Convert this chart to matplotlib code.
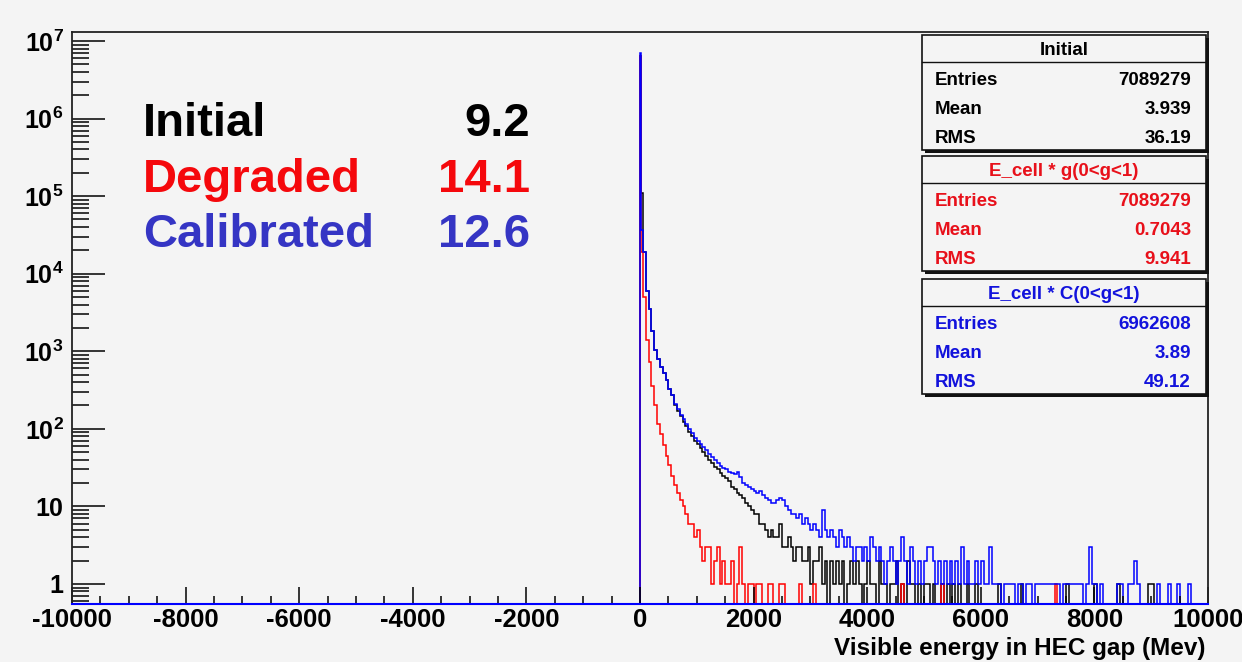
import numpy as np
import matplotlib
matplotlib.use("Agg")
import matplotlib.pyplot as plt
from matplotlib.patches import Rectangle
from matplotlib.lines import Line2D
from matplotlib.ticker import MultipleLocator, FixedLocator, FuncFormatter, NullFormatter

plt.rcParams["font.family"] = ["Liberation Sans", "DejaVu Sans"]
plt.rcParams["font.weight"] = "bold"
plt.rcParams["axes.unicode_minus"] = False
plt.rcParams["mathtext.fontset"] = "custom"
plt.rcParams["mathtext.rm"] = "Liberation Sans:bold"
plt.rcParams["mathtext.bf"] = "Liberation Sans:bold"
plt.rcParams["mathtext.it"] = "Liberation Sans:bold"

# bin edges (MeV): two narrow bins at zero, then 50 MeV bins up to 9700
edges = np.concatenate([[0, 20, 50], np.arange(100, 9701, 50)])

# counts for the first three bins [0,20) [20,50) [50,100)
black_peak = [6.4e6, 1.1e5, 1.9e4]
red_peak = [6.5e6, 1.9e4, 5.0e3]
blue_peak = [6.9e6, 3.7e4, 1.9e4]

# counts from 100 MeV on, 10 bins (500 MeV) per row
black_tail = [
    6000, 3500, 1800, 1050, 800, 620, 520, 430, 330, 270,
    205, 172, 146, 124, 108, 92, 80, 70, 63, 57,
    50, 45, 40, 36, 32, 30, 27, 25, 23, 21,
    18, 17, 15, 14, 13, 11, 10, 9, 8, 8,
    6, 6, 5, 4, 5, 4, 4, 6, 3, 3,
    4, 3, 2, 3, 3, 2, 2, 3, 1, 2,
    2, 3, 1, 2, 0, 2, 1, 2, 1, 2,
    0, 1, 2, 1, 2, 1, 0, 1, 2, 1,
    1, 0, 2, 1, 1, 0, 1, 1, 2, 0,
    1, 0, 2, 1, 1, 0, 1, 0, 1, 1,
    0, 1, 0, 0, 1, 0, 1, 0, 1, 0,
    1, 0, 0, 1, 0, 0, 1, 0, 0, 0,
    0, 0, 0, 0, 1, 0, 0, 0, 0, 0,
    0, 0, 1, 0, 0, 0, 0, 0, 0, 0,
    0, 0, 0, 0, 0, 0, 0, 0, 1, 0,
    0, 0, 0, 0, 0, 0, 0, 0, 1, 0,
    0, 0, 0, 0, 0, 0, 1, 0, 0, 0,
    0, 0, 0, 0, 0, 0, 0, 1, 1, 0,
    0, 0, 0, 0, 0, 0, 0, 0, 0, 0,
    0, 0,
]
red_tail = [
    1400, 720, 360, 200, 115, 85, 62, 45, 34, 25,
    19, 15, 12, 10, 8, 6, 6, 4, 5, 3,
    2, 3, 3, 1, 2, 3, 1, 2, 1, 1,
    2, 0, 1, 3, 1, 0, 1, 1, 0, 1,
    1, 0, 0, 1, 1, 0, 0, 1, 1, 0,
    0, 0, 0, 0, 1, 0, 0, 0, 0, 1,
    0, 0, 0, 0, 0, 0, 0, 0, 0, 0,
    0, 0, 0, 0, 0, 0, 0, 0, 0, 0,
    0, 0, 0, 0, 0, 0, 0, 0, 0, 0,
    1, 0, 0, 0, 0, 0, 0, 0, 0, 0,
    0, 0, 0, 0, 1, 0, 0, 0, 0, 0,
    0, 0, 0, 0, 0, 0, 0, 0, 0, 0,
    0, 0, 0, 0, 0, 0, 0, 0, 0, 0,
    0, 0, 0, 0, 0, 0, 0, 0, 0, 0,
    0, 0, 0, 0, 1, 0, 0, 0, 0, 0,
    0, 0, 0, 0, 0, 0, 0, 0, 0, 0,
    0, 0, 0, 0, 0, 0, 0, 0, 0, 0,
    0, 0, 0, 0, 0, 0, 0, 0, 0, 0,
    0, 0, 0, 0, 0, 0, 0, 0, 0, 0,
    0, 0,
]
blue_tail = [
    6000, 3500, 1800, 1050, 800, 620, 520, 430, 330, 270,
    212, 182, 150, 134, 114, 100, 88, 76, 70, 64,
    58, 54, 48, 43, 40, 36, 33, 31, 30, 28,
    27, 26, 28, 24, 20, 19, 18, 17, 16, 15,
    16, 14, 13, 12, 11, 11, 12, 13, 12, 10,
    9, 8, 8, 7, 8, 6, 7, 6, 5, 6,
    5, 4, 9, 5, 4, 5, 4, 3, 5, 4,
    3, 4, 3, 2, 3, 3, 2, 3, 2, 4,
    3, 2, 3, 2, 1, 2, 3, 2, 1, 2,
    4, 2, 1, 3, 2, 1, 2, 1, 2, 3,
    3, 2, 1, 2, 1, 2, 1, 2, 1, 2,
    1, 3, 1, 2, 1, 1, 2, 1, 2, 1,
    1, 3, 1, 1, 1, 0, 1, 1, 1, 1,
    0, 1, 1, 0, 1, 1, 0, 1, 1, 1,
    1, 1, 1, 1, 1, 1, 0, 1, 1, 1,
    1, 1, 1, 1, 0, 1, 3, 1, 1, 0,
    1, 0, 0, 0, 0, 0, 1, 1, 0, 0,
    1, 1, 2, 1, 0, 0, 0, 0, 0, 0,
    1, 0, 0, 0, 1, 0, 0, 1, 0, 0,
    0, 1,
]

stats = [
    ("Initial", "#000000", ["7089279", "3.939", "36.19"]),
    ("E_cell * g(0<g<1)", "#e8101a", ["7089279", "0.7043", "9.941"]),
    ("E_cell * C(0<g<1)", "#1212dc", ["6962608", "3.89", "49.12"]),
]
stat_names = ["Entries", "Mean", "RMS"]

summary_names = ["Initial", "Degraded", "Calibrated"]
summary_values = ["9.2", "14.1", "12.6"]
summary_colors = ["#000000", "#f5080c", "#3535c4"]

y_major = [1, 10, 1e2, 1e3, 1e4, 1e5, 1e6, 1e7]

YMIN, YMAX = 0.552, 1.306e7
BG = "#f4f4f4"
W, H = 1242, 662


def fx(px):
    return px / W


def fy(py):
    return 1 - py / H


fig = plt.figure(figsize=(W / 100, H / 100), dpi=100, facecolor=BG)
ax = fig.add_axes([fx(72), fy(604), fx(1208) - fx(72), fy(32) - fy(604)])
ax.set_facecolor(BG)
ax.set_yscale("log")

for peak, tail, col in [(black_peak, black_tail, "#000000"),
                        (red_peak, red_tail, "#ff0000"),
                        (blue_peak, blue_tail, "#0000ff")]:
    vals = np.clip(np.array(peak + tail, dtype=float), YMIN, None)
    ax.stairs(vals, edges, baseline=YMIN, color=col, lw=1.1)

ax.set_xlim(-10000, 10000)
ax.set_ylim(YMIN, YMAX)

ax.xaxis.set_major_locator(MultipleLocator(2000))
ax.xaxis.set_minor_locator(MultipleLocator(500))
ax.yaxis.set_major_locator(FixedLocator(y_major))
minor = [m * d for d in [0.1] + y_major for m in range(2, 10) if YMIN <= m * d <= YMAX]
ax.yaxis.set_minor_locator(FixedLocator(minor))
ax.yaxis.set_minor_formatter(NullFormatter())


def ylab(v, pos):
    e = int(round(np.log10(v)))
    if e == 0:
        return "1"
    if e == 1:
        return "10"
    return r"$10^{%d}$" % e


ax.yaxis.set_major_formatter(FuncFormatter(ylab))
ax.tick_params(axis="x", which="major", direction="in", length=12, width=1.1, pad=3, labelsize=18.5)
ax.tick_params(axis="x", which="minor", direction="in", length=6, width=1.1)
ax.tick_params(axis="y", which="major", direction="in", length=24, width=1.1, pad=6, labelsize=18)
ax.tick_params(axis="y", which="minor", direction="in", length=12, width=1.1)
for lab in ax.get_xticklabels() + ax.get_yticklabels():
    lab.set_fontweight("bold")

for s in ["top", "right", "left"]:
    ax.spines[s].set_color("#222222")
    ax.spines[s].set_linewidth(1.3)
ax.spines["bottom"].set_color("#0000ff")
ax.spines["bottom"].set_linewidth(1.5)

fig.text(fx(1206), fy(655), "Visible energy in HEC gap (Mev)", ha="right", va="baseline",
         fontsize=17.5, fontweight="bold")

# summary labels
for i, (name, val, col) in enumerate(zip(summary_names, summary_values, summary_colors)):
    base = 136 + i * 55.5
    fig.text(fx(143), fy(base), name, ha="left", va="baseline", fontsize=34,
             fontweight="bold", color=col)
    fig.text(fx(530), fy(base), val, ha="right", va="baseline", fontsize=34,
             fontweight="bold", color=col)

# stat boxes
box_tops = [35, 156, 279]
box_h = 115
for (title, col, values), top in zip(stats, box_tops):
    bottom = top + box_h
    shadow = Rectangle((fx(925), fy(bottom + 3)), fx(1206) - fx(922), fy(top) - fy(bottom),
                       transform=fig.transFigure, facecolor="#111111", edgecolor="none", zorder=5)
    box = Rectangle((fx(922), fy(bottom)), fx(1206) - fx(922), fy(top) - fy(bottom),
                    transform=fig.transFigure, facecolor=BG, edgecolor="#111111", lw=1.2, zorder=6)
    fig.patches.extend([shadow, box])
    fig.add_artist(Line2D([fx(922), fx(1206)], [fy(top + 27), fy(top + 27)],
                          transform=fig.transFigure, color="#111111", lw=1.0, zorder=7))
    fig.text(fx(1064), fy(top + 20), title, ha="center", va="baseline", fontsize=13.5,
             fontweight="bold", color=col, zorder=8)
    for j, (nm, v) in enumerate(zip(stat_names, values)):
        yb = top + 50 + j * 29
        fig.text(fx(935), fy(yb), nm, ha="left", va="baseline", fontsize=13.5,
                 fontweight="bold", color=col, zorder=8)
        fig.text(fx(1191), fy(yb), v, ha="right", va="baseline", fontsize=13.5,
                 fontweight="bold", color=col, zorder=8)

fig.savefig("out.png", dpi=100, facecolor=BG)
